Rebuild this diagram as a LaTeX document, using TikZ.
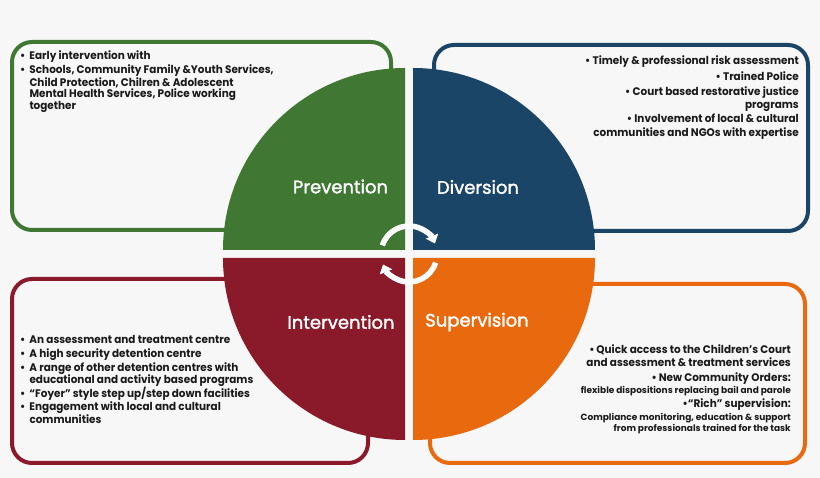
\documentclass[tikz,border=0pt]{standalone}
\usepackage{fontspec}
\setmainfont{Poppins}
\newfontfamily\txtfont{Poppins}[FakeStretch=0.95]
\newfontfamily\ttlfont{Poppins}[FakeBold=1.6]
\usetikzlibrary{arrows.meta}
\definecolor{bg}{HTML}{F7F7F7}
\definecolor{cgreen}{HTML}{3F7733}
\definecolor{cblue}{HTML}{1A4567}
\definecolor{cred}{HTML}{8A1A2A}
\definecolor{corange}{HTML}{E8690E}
\definecolor{ink}{HTML}{1A1A1A}
\begin{document}
\begin{tikzpicture}[x=1pt,y=1pt,
  frame/.style={line width=4pt, rounded corners=20pt, fill=bg},
  title/.style={text=white, inner sep=0pt, font=\ttlfont\fontsize{18}{20}\selectfont},
  bul/.style={inner sep=0pt, text=ink, font=\txtfont\bfseries\fontsize{11}{12}\selectfont},
  lft/.style={bul, anchor=base west},
  rgt/.style={bul, anchor=base east},
  sml/.style={rgt, font=\bfseries\fontsize{9}{10}\selectfont},
  circarrow/.style={white, line width=5.5pt, -{Triangle[width=13pt,length=8pt]}}]
\fill[bg] (0,0) rectangle (820,478);
\useasboundingbox (0,0) rectangle (820,478);
% frames
\draw[frame, draw=cgreen] (12,248) rectangle (391,436);
\draw[frame, draw=cblue] (434,247) rectangle (808,433);
\draw[frame, draw=cred] (12,15) rectangle (368,199);
\draw[frame, draw=corange] (430,15) rectangle (805,194);
% quadrants
\fill[cgreen] (405,228) -- (405,410) arc[start angle=90,end angle=180,radius=182] -- cycle;
\fill[cblue] (413,228) -- (595,228) arc[start angle=0,end angle=90,radius=182] -- cycle;
\fill[cred] (405,220) -- (223,220) arc[start angle=180,end angle=270,radius=182] -- cycle;
\fill[corange] (413,220) -- (413,38) arc[start angle=270,end angle=360,radius=182] -- cycle;
% circular arrows
\coordinate (c) at (409,224);
\draw[circarrow] (c) ++(162:28) arc[start angle=162,end angle=22,radius=28];
\draw[circarrow] (c) ++(-18:28) arc[start angle=-18,end angle=-158,radius=28];
% titles
\node[title] (prev) at (340.5,291.5) {Prevention};
\node[title] (div) at (478,291) {Diversion};
\node[title] (inter) at (341,156) {Intervention};
\node[title] (sup) at (477,156) {Supervision};
% green texts
\node[lft] (g1) at (20,418) {\makebox[9.3pt][l]{•}Early intervention with};
\node[lft] (g2) at (20,404) {\makebox[9.3pt][l]{•}Schools, Community Family \&Youth Services,};
\node[lft] (g3) at (29.3,391.7) {Child Protection, Chilren \& Adolescent};
\node[lft] (g4) at (29.3,380) {Mental Health Services, Police working};
\node[lft] (g5) at (29.3,368) {together};
% blue texts
\node[rgt] (b1) at (799,413) {• Timely \& professional risk assessment};
\node[rgt] (b2) at (799,397.3) {• Trained Police};
\node[rgt] (b3) at (799,382.3) {• Court based restorative justice};
\node[rgt] (b4) at (799,369.7) {programs};
\node[rgt] (b5) at (799,355) {• Involvement of local \& cultural};
\node[rgt] (b6) at (799,341.7) {communities and NGOs with expertise};
% red texts
\node[lft] (r1) at (20,134) {\makebox[9.3pt][l]{•}An assessment and treatment centre};
\node[lft] (r2) at (20,120.7) {\makebox[9.3pt][l]{•}A high security detention centre};
\node[lft] (r3) at (20,106.7) {\makebox[9.3pt][l]{•}A range of other detention centres with};
\node[lft] (r4) at (29.3,94) {educational and activity based programs};
\node[lft] (r5) at (20,80.7) {\makebox[9.3pt][l]{•}“Foyer” style step up/step down facilities};
\node[lft] (r6) at (20,67.3) {\makebox[9.3pt][l]{•}Engagement with local and cultural};
\node[lft] (r7) at (29.3,54.7) {communities};
% orange texts
\node[rgt] (o1) at (791,124) {•\,Quick access to the Children’s Court};
\node[rgt] (o2) at (791,111.7) {and assessment \& treatment services};
\node[rgt] (o3) at (791,96.3) {•\,New Community Orders:};
\node[sml] (o4) at (791,84.5) {flexible dispositions replacing bail and parole};
\node[rgt] (o5) at (791,70.7) {•“Rich” supervision:};
\node[sml] (o6) at (791,57.8) {Compliance monitoring, education \& support};
\node[sml] (o7) at (791,46.2) {from professionals trained for the task};
\end{tikzpicture}
\end{document}
